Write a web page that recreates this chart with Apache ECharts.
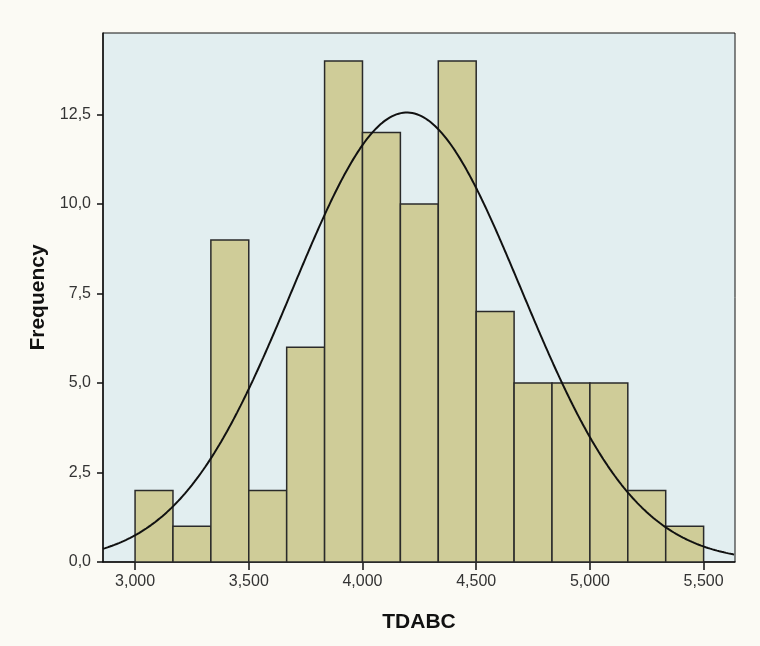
<!DOCTYPE html>
<html><head><meta charset="utf-8">
<script src="https://cdn.jsdelivr.net/npm/echarts@6/dist/echarts.min.js"></script>
<style>html,body{margin:0;padding:0;background:#fbfaf4;}#c{width:760px;height:646px;}</style>
</head><body><div id="c"></div>
<script>
// Histogram data (TDABC), bins of equal width from 3000 to 5500
const binStart = 3000;
const binEnd = 5500;
const counts = [2, 1, 9, 2, 6, 14, 12, 10, 14, 7, 5, 5, 5, 2, 1];
// Normal curve parameters (fitted distribution shown in chart)
const mean = 4195;
const stdDev = 503;
// Axis ticks
const xTicks = [3000, 3500, 4000, 4500, 5000, 5500];
const xTickLabels = ['3,000', '3,500', '4,000', '4,500', '5,000', '5,500'];
const yTickLabels = ['0,0', '2,5', '5,0', '7,5', '10,0', '12,5'];
const xMin = 2859, xMax = 5638, yMax = 14.78;

const binWidth = (binEnd - binStart) / counts.length;
const total = counts.reduce((a, b) => a + b, 0);
const barData = counts.map((c, i) => [binStart + i * binWidth, binStart + (i + 1) * binWidth, c]);
const curve = [];
for (let x = xMin; x <= xMax; x += 5) {
  const z = (x - mean) / stdDev;
  curve.push([x, total * binWidth / (stdDev * Math.sqrt(2 * Math.PI)) * Math.exp(-0.5 * z * z)]);
}

const chart = echarts.init(document.getElementById('c'));
chart.setOption({
  backgroundColor: '#fbfaf4',
  animation: false,
  grid: { left: 103, right: 25, top: 33, bottom: 84, show: true, backgroundColor: '#e2eef0', borderColor: '#111', borderWidth: 1 },
  xAxis: {
    type: 'value', min: xMin, max: xMax,
    name: 'TDABC', nameLocation: 'middle', nameGap: 50,
    nameTextStyle: { fontFamily: 'Liberation Sans, Arial', fontWeight: 'bold', fontSize: 21, color: '#111' },
    splitLine: { show: false },
    axisLine: { show: true, lineStyle: { color: '#111', width: 1.5 } },
    axisTick: { show: true, length: 8, customValues: xTicks, lineStyle: { color: '#111', width: 1.5 } },
    axisLabel: { customValues: xTicks, margin: 12, fontFamily: 'Liberation Sans, Arial', fontSize: 16, color: '#333',
      formatter: v => xTickLabels[xTicks.indexOf(v)] || '' }
  },
  yAxis: {
    type: 'value', min: 0, max: yMax, interval: 2.5,
    name: 'Frequency', nameLocation: 'middle', nameGap: 54,
    nameTextStyle: { fontFamily: 'Liberation Sans, Arial', fontWeight: 'bold', fontSize: 21, color: '#111' },
    splitLine: { show: false },
    axisLine: { show: true, lineStyle: { color: '#111', width: 1.5 } },
    axisTick: { show: true, length: 6, lineStyle: { color: '#111', width: 1.5 } },
    axisLabel: { margin: 12, fontFamily: 'Liberation Sans, Arial', fontSize: 16, color: '#333', showMaxLabel: false,
      formatter: v => { const i = Math.round(v / 2.5); return (Math.abs(v - i * 2.5) < 1e-6 && yTickLabels[i]) ? yTickLabels[i] : ''; } }
  },
  series: [
    {
      type: 'custom',
      data: barData,
      renderItem: (params, api) => {
        const p0 = api.coord([api.value(0), 0]);
        const p1 = api.coord([api.value(1), api.value(2)]);
        return { type: 'rect', shape: { x: p0[0], y: p1[1], width: p1[0] - p0[0], height: p0[1] - p1[1] },
          style: { fill: '#cfcc98', stroke: '#2a2a2a', lineWidth: 1.5 } };
      },
      encode: { x: [0, 1], y: 2 },
      z: 2
    },
    {
      type: 'line', data: curve, showSymbol: false, smooth: false,
      lineStyle: { color: '#111', width: 2 }, z: 3
    }
  ]
});
</script></body></html>
